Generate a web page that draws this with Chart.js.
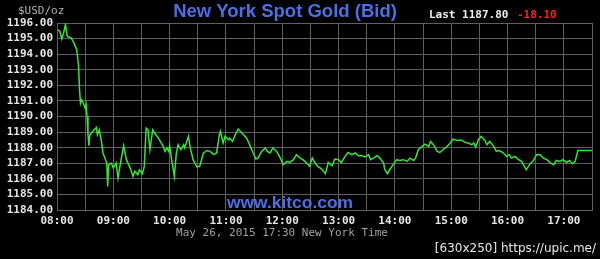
<!DOCTYPE html>
<html>
<head>
<meta charset="utf-8">
<script src="https://cdn.jsdelivr.net/npm/chart.js@4"></script>
<style>
html,body{margin:0;padding:0;background:#000;}
canvas{display:block;}
</style>
</head>
<body>
<canvas id="c" width="600" height="259"></canvas>
<script>
// minutes after 08:00
const minutes = [1,3,5,7,9,11,15,18,21,23,24,25,26,28,30,31,32,33,34,35,38,42,43,45,47,49,53,54,55,58,60,63,65,67,71,74,78,81,83,86,88,91,93,94,95,97,99,102,104,108,111,113,115,117,119,120,122,125,127,129,132,135,136,140,142,145,149,152,156,160,163,167,170,173,174,177,179,183,184,187,190,193,197,202,206,209,212,214,218,222,224,227,230,234,238,241,245,248,252,255,259,262,266,269,272,275,278,282,286,289,293,296,300,303,307,310,314,318,321,325,328,332,334,337,341,344,348,349,352,355,358,362,365,369,373,376,380,382,385,389,392,396,398,402,405,408,412,415,419,422,426,431,435,438,442,444,446,449,452,456,458,461,465,468,471,475,479,482,484,488,491,495,497,500,504,507,511,515,518,522,525,529,532,536,539,543,546,549,552,555,570];
const prices = [1195.57,1195.46,1194.97,1195.36,1195.91,1195.14,1195.04,1194.72,1194.29,1193.21,1191.72,1190.87,1191.08,1190.87,1190.54,1190.76,1190.0,1188.83,1188.12,1188.83,1189.04,1189.3,1188.83,1189.15,1188.51,1187.66,1187.01,1185.51,1186.9,1187.01,1186.69,1187.01,1186.05,1186.8,1188.12,1187.23,1186.69,1186.16,1186.48,1186.26,1186.58,1186.33,1186.8,1188.08,1189.26,1189.15,1187.87,1189.15,1188.94,1188.62,1188.3,1188.12,1187.76,1187.98,1187.76,1188.15,1187.3,1186.16,1187.55,1188.19,1187.87,1188.19,1187.98,1188.72,1187.98,1187.23,1186.76,1186.8,1187.66,1187.82,1187.76,1187.55,1187.66,1188.83,1189.04,1188.3,1188.72,1188.51,1188.62,1188.4,1188.83,1189.2,1188.94,1188.62,1188.08,1187.66,1187.27,1187.33,1187.76,1187.98,1187.76,1187.66,1187.98,1187.76,1187.33,1186.9,1187.12,1187.05,1187.23,1187.55,1187.33,1187.23,1187.01,1186.8,1187.33,1187.01,1186.8,1186.63,1186.33,1187.05,1186.84,1187.27,1187.23,1187.05,1187.44,1187.69,1187.55,1187.66,1187.48,1187.48,1187.4,1187.55,1187.23,1187.33,1187.48,1187.33,1187.01,1186.63,1186.33,1186.63,1186.9,1187.23,1187.18,1187.23,1187.12,1187.33,1187.18,1187.33,1187.87,1188.08,1188.23,1188.08,1188.4,1188.12,1187.76,1187.69,1187.91,1188.04,1188.3,1188.55,1188.47,1188.47,1188.34,1188.3,1188.19,1188.3,1188.04,1188.51,1188.72,1188.47,1188.19,1188.4,1188.12,1187.76,1187.82,1187.69,1187.44,1187.55,1187.33,1187.44,1187.27,1187.12,1186.9,1186.58,1186.97,1187.12,1187.55,1187.55,1187.33,1187.23,1187.05,1186.9,1187.18,1187.12,1187.23,1187.05,1187.18,1186.97,1187.12,1187.82,1187.82];
const hourLabels = ['08:00','09:00','10:00','11:00','12:00','13:00','14:00','15:00','16:00','17:00'];
const yMin = 1184, yMax = 1196;

const titleText = 'New York Spot Gold (Bid)';
const lastText = 'Last 1187.80';
const changeText = '-18.10';
const unitText = '$USD/oz';
const siteText = 'www.kitco.com';
const dateText = 'May 26, 2015 17:30 New York Time';
const stampText = '[630x250] https://upic.me/';

const points = minutes.map((m, i) => ({x: m, y: prices[i]}));

const textPlugin = {
  id: 'texts',
  beforeDraw(chart) {
    const ctx = chart.ctx;
    ctx.save();
    ctx.fillStyle = '#000';
    ctx.fillRect(0, 0, chart.width, chart.height);
    ctx.restore();
  },
  afterDraw(chart) {
    const ctx = chart.ctx;
    ctx.save();
    ctx.textBaseline = 'middle';
    // title
    ctx.font = 'bold 18.5px "Liberation Sans", Arial, sans-serif';
    ctx.fillStyle = '#4b70e6';
    ctx.textAlign = 'center';
    ctx.fillText(titleText, 285, 12);
    // Last
    ctx.font = 'bold 11px "DejaVu Sans Mono", monospace';
    ctx.textAlign = 'left';
    ctx.fillStyle = '#f0f0f0';
    ctx.fillText(lastText, 429, 15);
    ctx.fillStyle = '#ff2020';
    ctx.fillText(changeText, 517, 15);
    // unit
    ctx.fillStyle = '#b0b0b0';
    ctx.font = '11px "DejaVu Sans Mono", monospace';
    ctx.fillText(unitText, 18, 11);
    // site
    ctx.font = 'bold 17.4px "Liberation Sans", Arial, sans-serif';
    ctx.fillStyle = '#4b70e6';
    ctx.textAlign = 'center';
    ctx.fillText(siteText, 290, 203);
    // date
    ctx.font = '11px "DejaVu Sans Mono", monospace';
    ctx.fillStyle = '#a0a0a0';
    ctx.fillText(dateText, 282, 233);
    // stamp
    ctx.font = '12px "DejaVu Sans", sans-serif';
    ctx.fillStyle = '#e8e8e8';
    ctx.textAlign = 'right';
    ctx.fillText(stampText, 596, 249);
    ctx.restore();
  }
};

new Chart(document.getElementById('c'), {
  type: 'line',
  data: {
    datasets: [{
      data: points,
      borderColor: '#33e633',
      borderWidth: 1.5,
      pointRadius: 0,
      tension: 0,
      fill: false
    }]
  },
  options: {
    responsive: false,
    animation: false,
    layout: {padding: {left: 0, top: 23, right: 8, bottom: 0}},
    plugins: {legend: {display: false}, tooltip: {enabled: false}},
    scales: {
      x: {
        type: 'linear',
        min: 0, max: 570,
        afterFit(s) { s.height = 49; },
        grid: {color: '#606060', lineWidth: 1, drawTicks: false},
        border: {color: '#606060'},
        ticks: {
          stepSize: 30, autoSkip: false, maxRotation: 0, padding: 5,
          color: '#e6e6e6',
          font: {family: '"DejaVu Sans Mono", monospace', size: 11, weight: 'bold'},
          callback: (v) => (v % 60 === 0 ? hourLabels[v / 60] : '')
        }
      },
      y: {
        min: yMin, max: yMax,
        afterFit(s) { s.width = 57; },
        grid: {color: '#606060', lineWidth: 1, drawTicks: false},
        border: {color: '#606060'},
        ticks: {
          stepSize: 1, autoSkip: false, padding: 4,
          color: '#e6e6e6',
          font: {family: '"DejaVu Sans Mono", monospace', size: 11, weight: 'bold'},
          callback: (v) => v.toFixed(2)
        }
      }
    }
  },
  plugins: [textPlugin]
});
</script>
</body>
</html>
